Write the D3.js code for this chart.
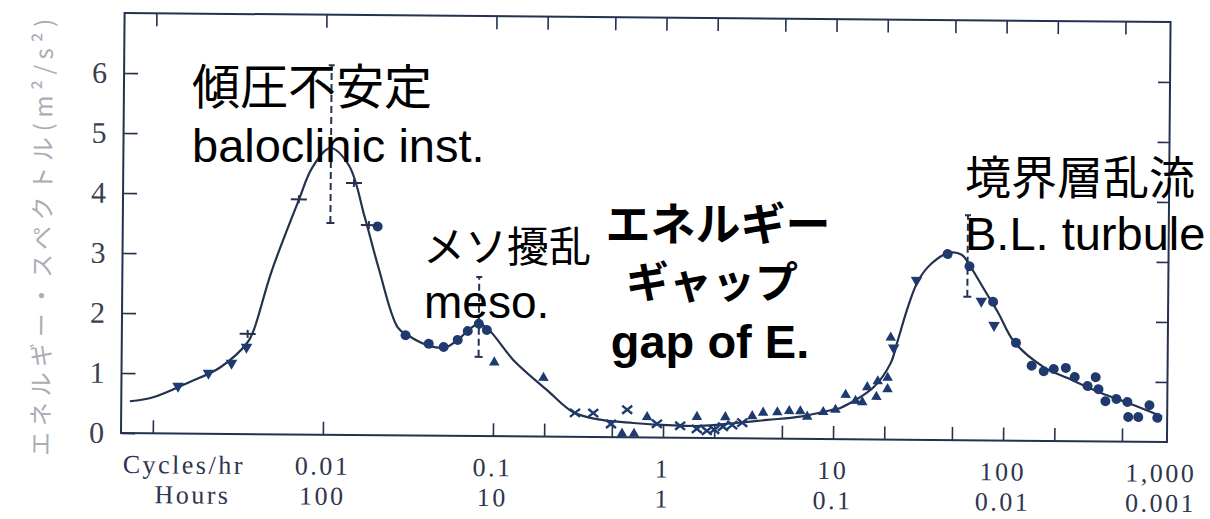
<!DOCTYPE html>
<html>
<head>
<meta charset="utf-8">
<script src="https://cdn.jsdelivr.net/npm/d3@7"></script>
<style>
  html, body { margin: 0; padding: 0; background: #fff; }
  svg { display: block; }
</style>
</head>
<body>
<svg id="chart" width="1210" height="519"></svg>
<script>
// Wind-speed energy spectrum (cycles per hour vs. m²/s²)

// Smooth spectrum curve
const curveFreq = [0.00073, 0.001, 0.00158, 0.00248, 0.00357, 0.00387, 0.00488, 0.00703, 0.0084, 0.0107,
  0.0138, 0.0172, 0.0208, 0.0272, 0.0312, 0.0415, 0.0515, 0.0614, 0.0713, 0.0816,
  0.0923, 0.131, 0.208, 0.296, 0.426, 0.667, 1.06, 1.65, 2.58, 4.09,
  6.4, 10, 11.0, 17.2, 21.6, 23.8, 27.2, 31.2, 37.2, 46.9,
  55.9, 62.2, 76.3, 92.2, 114.6, 172, 238, 372, 582, 861];
const curveEnergy = [0.53, 0.60, 0.84, 1.11, 1.53, 1.73, 2.70, 3.91, 4.45, 4.78,
  4.49, 3.63, 2.80, 1.80, 1.67, 1.50, 1.47, 1.60, 1.77, 1.87,
  1.79, 1.27, 0.77, 0.41, 0.29, 0.24, 0.21, 0.20, 0.25, 0.31,
  0.37, 0.49, 0.52, 0.87, 1.27, 1.66, 2.22, 2.66, 2.94, 3.12,
  3.09, 2.92, 2.51, 2.13, 1.65, 1.23, 1.05, 0.81, 0.61, 0.42];

// Observations by symbol
const downTriFreq = [0.0014, 0.00211, 0.00288, 0.00352, 22.5, 30.4, 73.3, 87.3];
const downTriEnergy = [0.79, 1.01, 1.18, 1.45, 1.53, 2.66, 2.32, 1.92];

const plusFreq = [0.00357, 0.00703, 0.0148, 0.0182];
const plusEnergy = [1.67, 3.92, 4.20, 3.50];

const circleFreq = [0.0205, 0.0303, 0.0415, 0.0508, 0.0614, 0.0703, 0.0816, 0.091,
  46.2, 62.2, 86, 117.7, 146, 172, 197, 232, 262, 312, 348, 362, 398, 462, 536, 543, 622, 723, 805];
const circleEnergy = [3.48, 1.67, 1.53, 1.48, 1.60, 1.75, 1.87, 1.77,
  3.10, 2.90, 2.31, 1.63, 1.25, 1.16, 1.20, 1.22, 1.07, 0.92, 1.07, 0.87, 0.67, 0.71, 0.66, 0.41, 0.41, 0.61, 0.40];

const upTriFreq = [0.101, 0.197, 0.574, 0.675, 0.805, 1.58, 2.32, 3.34, 3.87, 4.69, 5.51, 6.4, 7.03, 8.73,
  10.3, 11.8, 13.5, 14.8, 15.8, 18.2, 20.8, 17.9, 20.8, 21.6];
const upTriEnergy = [1.23, 0.98, 0.06, 0.06, 0.34, 0.35, 0.35, 0.37, 0.43, 0.44, 0.46, 0.46, 0.37, 0.45,
  0.49, 0.74, 0.64, 0.62, 0.87, 0.97, 1.03, 0.71, 0.84, 1.70];

const crossFreq = [0.303, 0.388, 0.494, 0.614, 0.92, 1.26, 1.58, 1.81, 2.0, 2.25, 2.55, 2.92];
const crossEnergy = [0.40, 0.40, 0.22, 0.46, 0.23, 0.20, 0.15, 0.12, 0.14, 0.19, 0.22, 0.26];

// Dashed range bars
const rangeFreq = [0.0108, 0.0816, 60.6];
const rangeLow = [3.53, 1.32, 2.39];
const rangeHigh = [6.16, 2.65, 3.75];

// Axes
const xTickValues = [0.001, 0.01, 0.1, 0.2, 0.5, 1, 2, 5, 10, 20, 50, 100, 200, 500];
const yTickValues = [0, 1, 2, 3, 4, 5, 6];
const cycleTicks = [0.01, 0.1, 1, 10, 100, 1000];
const cycleLabels = ['0.01', '0.1', '1', '10', '100', '1,000'];
const hourLabels = ['100', '10', '1', '0.1', '0.01', '0.001'];

const ink = '#24324f';
const markInk = '#1f3a6e';
const serif = '"Liberation Serif", "Times New Roman", serif';

const svg = d3.select('#chart');
const x = d3.scaleLog().domain([0.00065, 920]).range([121, 1167]);
const y = d3.scaleLinear().domain([0, 7]).range([433, 13]);

// the printed figure sits slightly tilted on the page
const plot = svg.append('g').attr('transform', 'rotate(0.49,121,433)');

plot.append('rect')
  .attr('x', x.range()[0]).attr('y', y.range()[1])
  .attr('width', x.range()[1] - x.range()[0])
  .attr('height', y.range()[0] - y.range()[1])
  .attr('fill', 'none').attr('stroke', ink).attr('stroke-width', 2);

function styleAxis(g) {
  g.select('.domain').remove();
  g.selectAll('.tick line').attr('stroke', ink).attr('stroke-width', 1.6);
}

plot.append('g').attr('transform', `translate(0,${y(0)})`)
  .call(d3.axisBottom(x).tickValues(xTickValues).tickSize(-13).tickFormat(''))
  .call(styleAxis);
plot.append('g').attr('transform', `translate(0,${y(7)})`)
  .call(d3.axisTop(x).tickValues(xTickValues).tickSize(-13).tickFormat(''))
  .call(styleAxis);
plot.append('g').attr('transform', `translate(${x.range()[0]},0)`)
  .call(d3.axisLeft(y).tickValues(yTickValues).tickSize(-14).tickPadding(17).tickFormat(d3.format('d')))
  .call(styleAxis)
  .call(g => g.selectAll('.tick text')
    .style('font-family', serif).style('font-size', '30px').style('fill', '#3a3f4f'));
plot.append('g').attr('transform', `translate(${x.range()[1]},0)`)
  .call(d3.axisRight(y).tickValues(yTickValues.slice(1)).tickSize(-12).tickFormat(''))
  .call(styleAxis);

// two rows of frequency labels
const labelRows = plot.append('g')
  .style('font-family', serif).style('font-size', '26px').attr('fill', '#2e3550')
  .attr('letter-spacing', 2.5);
labelRows.append('text').attr('x', 123).attr('y', 473).text('Cycles/hr');
labelRows.append('text').attr('x', 155).attr('y', 503).text('Hours');
labelRows.selectAll('text.cyc').data(cycleTicks).join('text')
  .attr('class', 'cyc')
  .attr('x', (d, i) => x(d) - (i === cycleTicks.length - 1 ? 12 : 0))
  .attr('y', 473).attr('text-anchor', 'middle')
  .text((d, i) => cycleLabels[i]);
labelRows.selectAll('text.hr').data(cycleTicks).join('text')
  .attr('class', 'hr')
  .attr('x', (d, i) => x(d) - (i === cycleTicks.length - 1 ? 12 : 0))
  .attr('y', 503).attr('text-anchor', 'middle')
  .text((d, i) => hourLabels[i]);

// vertical title
plot.append('text')
  .attr('transform', 'translate(39,238) rotate(-90)')
  .attr('text-anchor', 'middle').attr('dominant-baseline', 'central')
  .style('font-family', '"Noto Sans CJK JP", sans-serif').style('font-size', '24px')
  .attr('fill', '#a9adb6')
  .attr('textLength', 437).attr('lengthAdjust', 'spacing')
  .text('エネルギー・スペクトル(m²/s²)');

// spectrum curve
const curvePts = curveFreq.map((f, i) => [f, curveEnergy[i]]);
plot.append('path')
  .datum(curvePts)
  .attr('fill', 'none').attr('stroke', ink).attr('stroke-width', 2.2)
  .attr('d', d3.line().x(d => x(d[0])).y(d => y(d[1])).curve(d3.curveCatmullRom.alpha(0.5)));

// dashed range bars
const bars = plot.append('g').attr('stroke', ink).attr('stroke-width', 2);
rangeFreq.forEach((f, i) => {
  const cx = x(f);
  bars.append('line').attr('x1', cx).attr('x2', cx)
    .attr('y1', y(rangeLow[i])).attr('y2', y(rangeHigh[i]))
    .attr('stroke-dasharray', '7,4');
  bars.append('line').attr('x1', cx - 4).attr('x2', cx + 4)
    .attr('y1', y(rangeLow[i])).attr('y2', y(rangeLow[i]));
  bars.append('line').attr('x1', cx - 3).attr('x2', cx + 3)
    .attr('y1', y(rangeHigh[i])).attr('y2', y(rangeHigh[i]));
});

const marks = plot.append('g');
const triPath = d3.symbol().type(d3.symbolTriangle).size(48)();
const triDownPath = d3.symbol().type(d3.symbolTriangle).size(58)();

marks.selectAll('path.dn').data(downTriFreq).join('path')
  .attr('class', 'dn').attr('d', triDownPath).attr('fill', markInk)
  .attr('transform', (d, i) => `translate(${x(d)},${y(downTriEnergy[i])}) rotate(180)`);

marks.selectAll('path.up').data(upTriFreq).join('path')
  .attr('class', 'up').attr('d', triPath).attr('fill', markInk)
  .attr('transform', (d, i) => `translate(${x(d)},${y(upTriEnergy[i])})`);

marks.selectAll('circle').data(circleFreq).join('circle')
  .attr('cx', d => x(d)).attr('cy', (d, i) => y(circleEnergy[i]))
  .attr('r', 5).attr('fill', markInk);

marks.selectAll('path.plus').data(plusFreq).join('path')
  .attr('class', 'plus').attr('d', 'M-8,0H8M0,-4V4')
  .attr('stroke', ink).attr('stroke-width', 2).attr('fill', 'none')
  .attr('transform', (d, i) => `translate(${x(d)},${y(plusEnergy[i])})`);

marks.selectAll('path.cross').data(crossFreq).join('path')
  .attr('class', 'cross').attr('d', 'M-5,-4L5,4M-5,4L5,-4')
  .attr('stroke', markInk).attr('stroke-width', 2.4).attr('fill', 'none')
  .attr('transform', (d, i) => `translate(${x(d)},${y(crossEnergy[i])})`);

// region annotations
const notes = svg.append('g').attr('fill', '#000');
const jp = '"Noto Sans CJK JP", sans-serif';
const sans = '"Liberation Sans", Arial, sans-serif';
function note(t, px, py, family, size, weight, anchor) {
  notes.append('text').attr('x', px).attr('y', py)
    .style('font-family', family).style('font-size', size + 'px')
    .style('font-weight', weight || 'normal')
    .attr('text-anchor', anchor || 'start').text(t);
}
note('傾圧不安定', 192, 104, jp, 48);
note('baloclinic inst.', 192, 162, sans, 47);
note('メソ擾乱', 423, 262, jp, 42);
note('meso.', 424, 318, sans, 46);
note('エネルギー', 718, 241, jp, 45, 'bold', 'middle');
note('ギャップ', 712, 298, jp, 43, 'bold', 'middle');
note('gap of E.', 710, 358, sans, 47, 'bold', 'middle');
note('境界層乱流', 965, 194, jp, 46);
note('B.L. turbule', 965, 250, sans, 47);
</script>
</body>
</html>
